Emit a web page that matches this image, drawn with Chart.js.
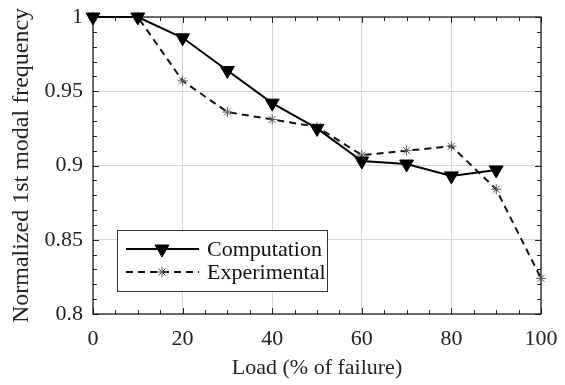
<!DOCTYPE html>
<html>
<head>
<meta charset="utf-8">
<script src="https://cdn.jsdelivr.net/npm/chart.js@4/dist/chart.umd.min.js"></script>
<style>
  html, body { margin: 0; padding: 0; background: #fff; }
  #wrap { width: 565px; height: 385px; }
</style>
</head>
<body>
<div id="wrap"><canvas id="myChart"></canvas></div>
<script>
const loads = [0, 10, 20, 30, 40, 50, 60, 70, 80, 90, 100];
const computation = [1.0, 1.0, 0.986, 0.964, 0.942, 0.925, 0.903, 0.901, 0.893, 0.897];
const experimental = [1.0, 1.0, 0.957, 0.936, 0.931, 0.926, 0.907, 0.910, 0.913, 0.884, 0.824];
const xTicks = [0, 20, 40, 60, 80, 100];
const yTicks = [0.8, 0.85, 0.9, 0.95, 1];

const serif = "'Liberation Serif', 'Times New Roman', serif";

function toPoints(vals) {
  return vals.map((v, i) => ({ x: loads[i], y: v }));
}

// inward minor/major ticks on all four sides of the box
const boxTicks = {
  id: "boxTicks",
  beforeDatasetsDraw(chart) {
    const ctx = chart.ctx;
    const a = chart.chartArea;
    const xs = chart.scales.x, ys = chart.scales.y;
    ctx.save();
    ctx.strokeStyle = "#222";
    ctx.lineWidth = 1;
    ctx.beginPath();
    for (let v = 0; v <= 100; v += 5) {
      const px = Math.round(xs.getPixelForValue(v)) + 0.5;
      const len = v % 20 === 0 ? 6 : 4;
      ctx.moveTo(px, a.bottom); ctx.lineTo(px, a.bottom - len);
      ctx.moveTo(px, a.top); ctx.lineTo(px, a.top + len);
    }
    for (let k = 0; k <= 20; k++) {
      const v = 0.8 + k * 0.01;
      const py = Math.round(ys.getPixelForValue(v)) + 0.5;
      const len = k % 5 === 0 ? 6 : 4;
      ctx.moveTo(a.left, py); ctx.lineTo(a.left + len, py);
      ctx.moveTo(a.right, py); ctx.lineTo(a.right - len, py);
    }
    ctx.stroke();
    ctx.strokeStyle = "#111";
    ctx.lineWidth = 1.2;
    ctx.strokeRect(a.left, a.top, a.right - a.left, a.bottom - a.top);
    ctx.restore();
  }
};

// legend box drawn inside the plot, lower left
const boxLegend = {
  id: "boxLegend",
  afterDraw(chart) {
    const ctx = chart.ctx;
    const x0 = 117, y0 = 230, w = 210, h = 61;
    ctx.save();
    ctx.fillStyle = "#fff";
    ctx.fillRect(x0, y0, w, h);
    ctx.strokeStyle = "#333";
    ctx.lineWidth = 1;
    ctx.strokeRect(x0 + 0.5, y0 + 0.5, w, h);
    const sets = chart.data.datasets;
    const rows = [y0 + 19, y0 + 42];
    sets.forEach((ds, i) => {
      const y = rows[i];
      ctx.strokeStyle = ds.borderColor;
      ctx.lineWidth = ds.borderWidth;
      ctx.setLineDash(ds.borderDash || []);
      ctx.beginPath();
      ctx.moveTo(x0 + 9, y);
      ctx.lineTo(x0 + 82, y);
      ctx.stroke();
      ctx.setLineDash([]);
      ctx.fillStyle = ds.pointBackgroundColor;
      ctx.strokeStyle = ds.pointBorderColor;
      ctx.lineWidth = ds.pointBorderWidth;
      Chart.helpers.drawPoint(ctx, {
        pointStyle: ds.pointStyle,
        rotation: ds.pointRotation || 0,
        radius: ds.pointRadius,
        borderWidth: ds.pointBorderWidth
      }, x0 + 45, y);
      ctx.fillStyle = "#111";
      ctx.font = "22px " + serif;
      ctx.textBaseline = "middle";
      ctx.fillText(ds.label, x0 + 90, y + 1);
    });
    ctx.restore();
  }
};

new Chart("myChart", {
  type: "line",
  data: {
    datasets: [
      {
        label: "Computation",
        data: toPoints(computation),
        borderColor: "#000",
        borderWidth: 2,
        pointStyle: "triangle",
        pointRotation: 180,
        pointRadius: 8,
        pointBackgroundColor: "#000",
        pointBorderColor: "#000",
        pointBorderWidth: 1,
        clip: false
      },
      {
        label: "Experimental",
        data: toPoints(experimental),
        borderColor: "#111",
        borderWidth: 2,
        borderDash: [7, 5],
        pointStyle: "star",
        pointRadius: 5,
        pointBorderColor: "#555",
        pointBackgroundColor: "#555",
        pointBorderWidth: 1,
        clip: false
      }
    ]
  },
  options: {
    responsive: true,
    maintainAspectRatio: false,
    animation: false,
    layout: { padding: { top: 17, right: 24, left: 0, bottom: 0 } },
    plugins: {
      legend: { display: false },
      tooltip: { enabled: false }
    },
    scales: {
      x: {
        type: "linear",
        min: 0,
        max: 100,
        afterFit(s) {
          s.height = 71;
          s.paddingLeft = 0;
          s.paddingRight = 0;
        },
        afterBuildTicks(s) { s.ticks = xTicks.map(v => ({ value: v })); },
        grid: { color: "#d6d6d6", drawTicks: false, lineWidth: 1 },
        border: { display: false },
        ticks: {
          color: "#222",
          padding: 12,
          font: { family: serif, size: 22 }
        },
        title: {
          display: true,
          text: "Load (% of failure)",
          color: "#222",
          padding: { top: 2 },
          font: { family: serif, size: 22 }
        }
      },
      y: {
        min: 0.8,
        max: 1,
        afterFit(s) {
          s.width = 93;
          s.paddingTop = 0;
          s.paddingBottom = 0;
        },
        afterBuildTicks(s) { s.ticks = yTicks.map(v => ({ value: v })); },
        grid: { color: "#d6d6d6", drawTicks: false, lineWidth: 1 },
        border: { display: false },
        ticks: {
          color: "#222",
          padding: 10,
          font: { family: serif, size: 22 },
          callback: v => String(Number(v.toFixed(2)))
        },
        title: {
          display: true,
          text: "Normalized 1st modal frequency",
          color: "#222",
          padding: { top: 7, bottom: 0 },
          font: { family: serif, size: 24 }
        }
      }
    }
  },
  plugins: [boxTicks, boxLegend]
});
</script>
</body>
</html>
